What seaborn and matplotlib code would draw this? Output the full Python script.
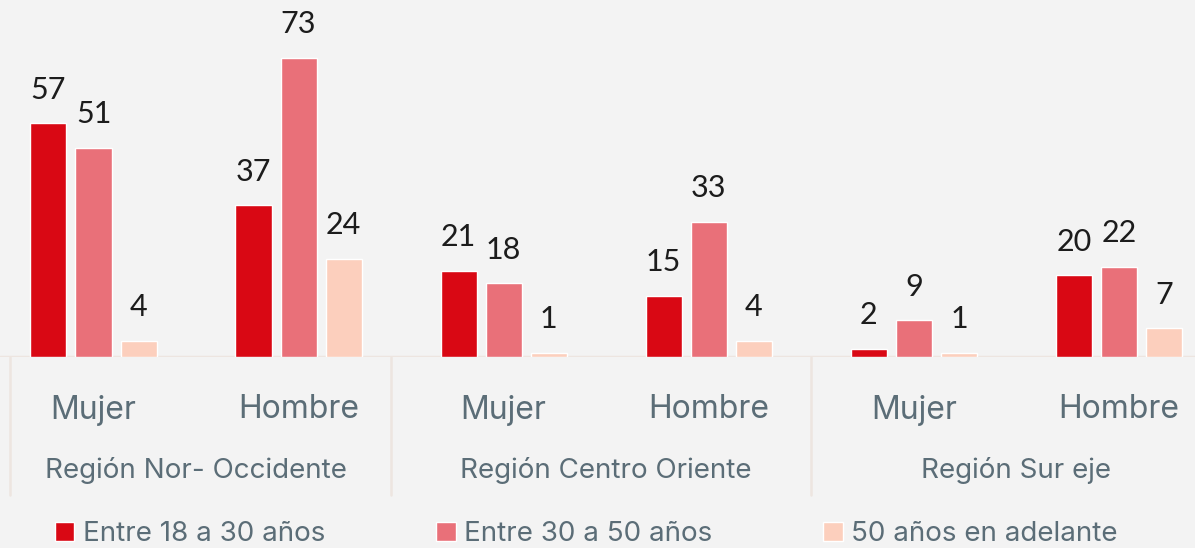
import matplotlib
matplotlib.use("Agg")
import matplotlib.pyplot as plt
import seaborn as sns
import pandas as pd

# ---- data ----
regions = ["Región Nor- Occidente", "Región Centro Oriente", "Región Sur eje"]
genders = ["Mujer", "Hombre"]
age_groups = ["Entre 18 a 30 años", "Entre 30 a 50 años", "50 años en adelante"]
values_18_30 = [57, 37, 21, 15, 2, 20]
values_30_50 = [51, 73, 18, 33, 9, 22]
values_50_plus = [4, 24, 1, 4, 1, 7]
colors = ["#d90814", "#e97079", "#fccfbd"]

# ---- build table ----
cats = [f"{r}|{g}" for r in regions for g in genders]
rows = []
for age, vals in zip(age_groups, [values_18_30, values_30_50, values_50_plus]):
    for c, v in zip(cats, vals):
        rows.append({"cat": c, "age": age, "value": v})
df = pd.DataFrame(rows)

sns.set_theme(style="white")
plt.rcParams["font.family"] = ["Inter", "DejaVu Sans"]

bg = "#f3f3f3"
text_col = "#5b6d77"
line_col = "#ede5e0"

fig = plt.figure(figsize=(11.95, 5.48), dpi=100, facecolor=bg)
ax = fig.add_axes([0, 191 / 548, 1, 328 / 548])
ax.set_facecolor("none")

sns.barplot(data=df, x="cat", y="value", hue="age", order=cats,
            hue_order=age_groups, palette=colors, width=0.66, gap=0.2,
            saturation=1, ax=ax, legend=True)

for cont in ax.containers:
    ax.bar_label(cont, padding=14, fontsize=22, color="#1c1c1c",
                 family=["Lato", "DejaVu Sans"])

ax.set_ylim(0, 80)
ax.set_xlim(-0.456, 5.371)
for s in ax.spines.values():
    s.set_visible(False)
ax.set_yticks([])
ax.set_ylabel("")
ax.set_xlabel("")
ax.set_xticks(range(len(cats)))
ax.set_xticklabels([c.split("|")[1] for c in cats], fontsize=23, color=text_col)
ax.tick_params(axis="x", length=0, pad=27)

# baseline and region separators
ax.axhline(0, color=line_col, lw=2.5, zorder=0)
trans = ax.get_xaxis_transform()
for xsep in [-0.407, 1.45, 3.5]:
    ax.plot([xsep, xsep], [0, -0.42], transform=trans, color=line_col,
            lw=1.8, clip_on=False)

# region labels
for i, r in enumerate(regions):
    ax.text(2 * i + 0.5, -0.345, r, transform=trans, ha="center", va="center",
            fontsize=20, color=text_col)

# legend
handles, labels = ax.get_legend_handles_labels()
ax.legend_.remove()
fig.legend(handles, labels, loc="center left", bbox_to_anchor=(55 / 1195, 14 / 548),
           ncol=3, frameon=False, fontsize=20, labelcolor=text_col,
           handlelength=0.7, handleheight=0.7, handletextpad=0.3,
           columnspacing=4.0, borderpad=0, borderaxespad=0)

fig.savefig("out.png", dpi=100, facecolor=bg)
